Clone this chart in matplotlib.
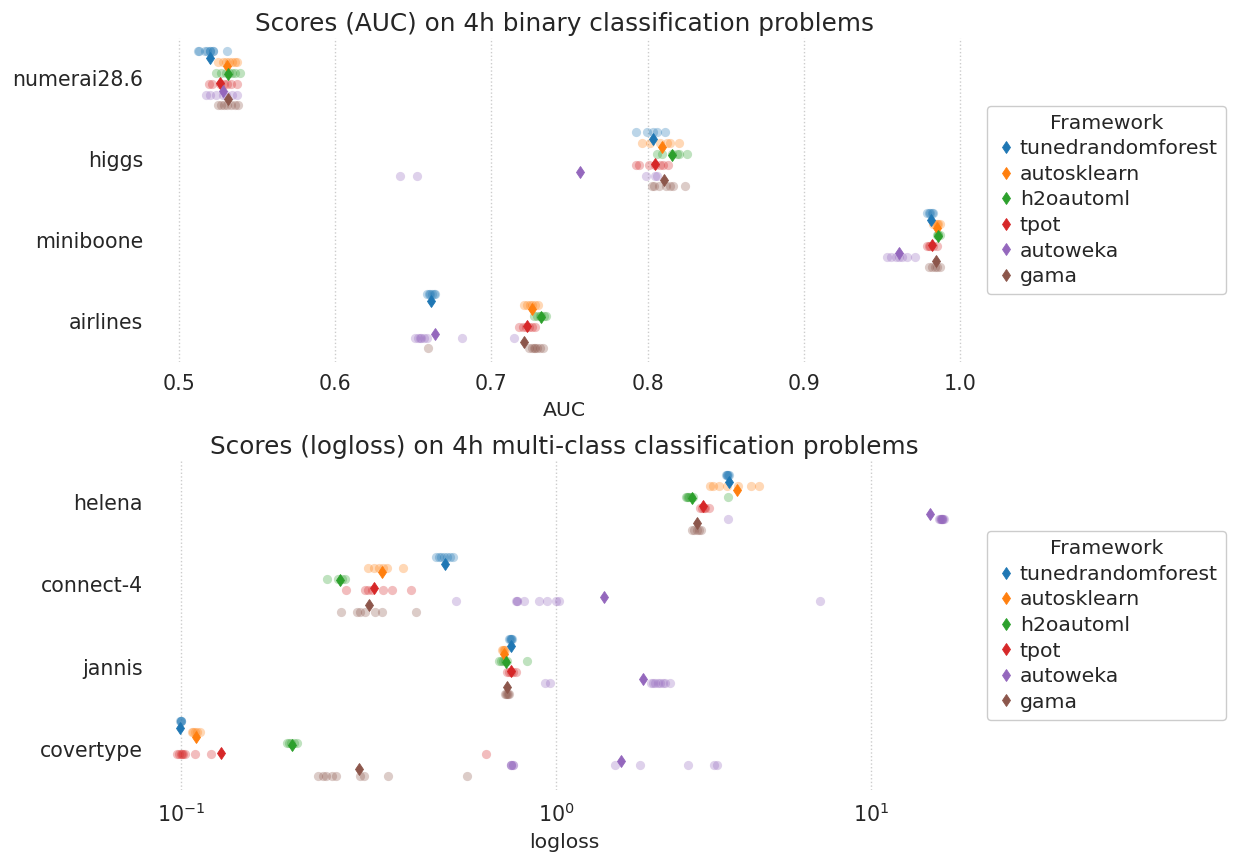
import matplotlib
matplotlib.use("Agg")
import matplotlib.pyplot as plt
import numpy as np


frameworks = ["tunedrandomforest", "autosklearn", "h2oautoml", "tpot", "autoweka", "gama"]
colors = ["#1f77b4", "#ff7f0e", "#2ca02c", "#d62728", "#9467bd", "#8c564b"]

# AUC per fold, one list per framework (same order as frameworks)
auc_datasets = ["numerai28.6", "higgs", "miniboone", "airlines"]
auc_numerai = [
    [0.512, 0.513, 0.5166, 0.518, 0.5198, 0.520, 0.5218, 0.522, 0.531],
    [0.525, 0.528, 0.530, 0.532, 0.534, 0.536, 0.537],
    [0.524, 0.527, 0.530, 0.532, 0.534, 0.536, 0.539],
    [0.519, 0.521, 0.526, 0.529, 0.531, 0.533, 0.537],
    [0.517, 0.520, 0.524, 0.528, 0.530, 0.534, 0.537],
    [0.525, 0.527, 0.529, 0.531, 0.533, 0.536, 0.538],
]
auc_higgs = [
    [0.7926, 0.7996, 0.8035, 0.806, 0.8111],
    [0.7964, 0.8015, 0.8079, 0.8124, 0.8143, 0.8201],
    [0.806, 0.8092, 0.8156, 0.8188, 0.8201, 0.8252],
    [0.7926, 0.7945, 0.8009, 0.8047, 0.8079, 0.8099, 0.8131],
    [0.6415, 0.6524, 0.799, 0.8047, 0.806],
    [0.8028, 0.8041, 0.8073, 0.8118, 0.8143, 0.8163, 0.824],
]
auc_miniboone = [
    [0.979, 0.980, 0.981, 0.982, 0.983],
    [0.983, 0.984, 0.985, 0.986, 0.987],
    [0.985, 0.986, 0.986, 0.987],
    [0.979, 0.980, 0.981, 0.983, 0.985],
    [0.953, 0.956, 0.959, 0.961, 0.963, 0.966, 0.971],
    [0.980, 0.982, 0.984, 0.985, 0.987],
]
auc_airlines = [
    [0.659, 0.660, 0.661, 0.662, 0.663, 0.664],
    [0.721, 0.723, 0.725, 0.726, 0.728, 0.730],
    [0.727, 0.729, 0.731, 0.732, 0.734, 0.735],
    [0.718, 0.720, 0.722, 0.724, 0.726, 0.728],
    [0.651, 0.653, 0.654, 0.655, 0.657, 0.659, 0.681, 0.7145],
    [0.6594, 0.724, 0.726, 0.727, 0.728, 0.729, 0.731, 0.733],
]
auc_folds = [auc_numerai, auc_higgs, auc_miniboone, auc_airlines]
# mean AUC per dataset (diamonds)
auc_means = [
    [0.520, 0.531, 0.5315, 0.526, 0.528, 0.5315],
    [0.8035, 0.8092, 0.8156, 0.8047, 0.7567, 0.8105],
    [0.9814, 0.9853, 0.986, 0.982, 0.961, 0.9846],
    [0.6613, 0.726, 0.7318, 0.7228, 0.6639, 0.7209],
]

# logloss per fold
ll_datasets = ["helena", "connect-4", "jannis", "covertype"]
ll_helena = [
    [3.45, 3.5, 3.5, 3.52, 3.55],
    [3.08, 3.15, 3.29, 3.49, 3.78, 4.16, 4.40],
    [2.58, 2.60, 2.62, 2.65, 2.68, 2.72, 3.51],
    [2.86, 2.90, 2.94, 2.98, 3.05],
    [3.51, 16.4, 16.5, 16.6, 16.6, 16.7, 16.7, 16.8, 16.9, 17.0],
    [2.70, 2.75, 2.80, 2.85, 2.88],
]
ll_connect4 = [
    [0.464, 0.468, 0.472, 0.476, 0.480, 0.485, 0.488],
    [0.3673, 0.3758, 0.383, 0.3887, 0.3944, 0.4172],
    [0.3088, 0.3245, 0.3302, 0.3345],
    [0.3359, 0.363, 0.3673, 0.373, 0.3887, 0.4015, 0.4287],
    [0.493, 0.747, 0.751, 0.75, 0.795, 0.884, 0.937, 1.0, 1.022, 6.9],
    [0.3287, 0.3516, 0.356, 0.363, 0.3773, 0.387, 0.4358],
]
ll_jannis = [
    [0.71, 0.715, 0.72, 0.72, 0.725],
    [0.675, 0.68, 0.685, 0.69],
    [0.66, 0.67, 0.68, 0.69, 0.70, 0.81],
    [0.70, 0.71, 0.72, 0.73, 0.745],
    [0.924, 0.958, 2.0, 2.03, 2.06, 2.1, 2.14, 2.18, 2.22, 2.3],
    [0.69, 0.695, 0.70, 0.705, 0.71],
]
ll_covertype = [
    [0.099, 0.1, 0.1, 0.101],
    [0.116, 0.118, 0.12, 0.123, 0.128],
    [0.252, 0.255, 0.258, 0.262, 0.266],
    [0.095, 0.098, 0.1, 0.102, 0.104, 0.106, 0.12, 0.143, 0.60],
    [0.72, 0.72, 0.72, 0.73, 0.73, 1.54, 1.85, 2.62, 3.17, 3.24],
    [0.296, 0.303, 0.307, 0.316, 0.321, 0.356, 0.362, 0.396, 0.523],
]
ll_folds = [ll_helena, ll_connect4, ll_jannis, ll_covertype]
ll_means = [
    [3.53, 3.75, 2.70, 2.93, 15.36, 2.80],
    [0.477, 0.387, 0.3273, 0.3758, 1.42, 0.369],
    [0.72, 0.685, 0.694, 0.72, 1.89, 0.70],
    [0.0995, 0.1219, 0.2588, 0.1575, 1.61, 0.3545],
]

plt.rcParams.update({
    "font.family": "DejaVu Sans",
    "text.color": "0.15",
    "axes.labelcolor": "0.15",
    "xtick.color": "0.15",
    "ytick.color": "0.15",
})


def draw(ax, datasets, folds, means, title, xlabel):
    n = len(frameworks)
    strip_off = (np.arange(n) - (n - 1) / 2) * 0.8 / n
    point_off = np.linspace(-0.25, 0.25, n)
    rows = np.arange(len(datasets))
    for i, (name, col) in enumerate(zip(frameworks, colors)):
        for j in rows:
            vals = folds[j][i]
            ax.scatter(vals, np.full(len(vals), j + strip_off[i]), s=44,
                       color=col, alpha=0.3, linewidths=0, zorder=1)
        ax.plot([m[i] for m in means], rows + point_off[i], ls="none",
                marker="d", ms=6.0, mew=0.6, color=col, label=name, zorder=3)

    ax.set_yticks(rows, datasets)
    ax.set_ylim(len(datasets) - 0.5, -0.5)
    ax.grid(True, axis="x", color="0.8", linestyle=":", linewidth=1.0)
    ax.set_axisbelow(True)
    for s in ax.spines.values():
        s.set_visible(False)
    ax.tick_params(length=0, labelsize=14.8, pad=5)
    ax.tick_params(axis="x", pad=9)
    ax.set_title(title, fontsize=17.8, pad=5)
    ax.set_xlabel(xlabel, fontsize=14.7, labelpad=5)
    ax.legend(title="Framework", loc="center left", bbox_to_anchor=(1, 0.5),
              fontsize=14.7, title_fontsize=14.7, handlelength=1.0,
              handletextpad=0.2, labelspacing=0.32, borderaxespad=0.4,
              edgecolor="0.8", framealpha=1)


fig = plt.figure(figsize=(12.6, 8.61), dpi=100)
ax1 = fig.add_axes([0.119, 0.5796, 0.658, 0.3763])
ax2 = fig.add_axes([0.119, 0.0825, 0.658, 0.3821])

draw(ax1, auc_datasets, auc_folds, auc_means,
     "Scores (AUC) on 4h binary classification problems", "AUC")
ax1.set_xlim(0.4814, 1.0122)
ax1.set_xticks([0.5, 0.6, 0.7, 0.8, 0.9, 1.0])

draw(ax2, ll_datasets, ll_folds, ll_means,
     "Scores (logloss) on 4h multi-class classification problems", "logloss")
ax2.set_xscale("symlog", linthresh=0.5, linscale=1)
ax2.set_xlim(0.0562, 21.96)

fig.savefig("out.png", dpi=100)
plt.close(fig)
